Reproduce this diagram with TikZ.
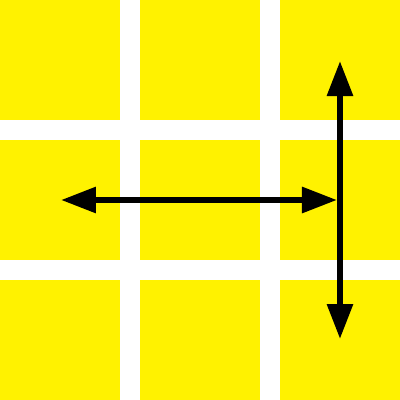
\documentclass[tikz,border=0pt]{standalone}
\usepackage{tikz}
\usetikzlibrary{arrows.meta, positioning}
\usepackage{xcolor}
\definecolor{tileyellow}{HTML}{FFF200}

\begin{document}
\begin{tikzpicture}[
    tile/.style={fill=tileyellow, draw=none, minimum size=1.2cm, inner sep=0pt},
    move/.style={line width=0.06cm, {Triangle[length=3.5mm, width=2.5mm]}-{Triangle[length=3.5mm, width=2.5mm]}},
]
\useasboundingbox[fill=white] (0,0) rectangle (4,4);

% 3x3 tiles
\foreach \i/\x in {1/0.6, 2/2.0, 3/3.4} {
    \foreach \j/\y in {1/3.4, 2/2.0, 3/0.6} {
        \node[tile] (t\j\i) at (\x,\y) {};
    }
}

\coordinate (hleft) at (0.61,2.0);
\coordinate (hright) at (3.37,2.0);
\coordinate (vtop) at (3.4,3.39);
\coordinate (vbottom) at (3.4,0.61);

\draw[move] (hleft) -- (hright);
\draw[move] (vtop) -- (vbottom);

\end{tikzpicture}
\end{document}
